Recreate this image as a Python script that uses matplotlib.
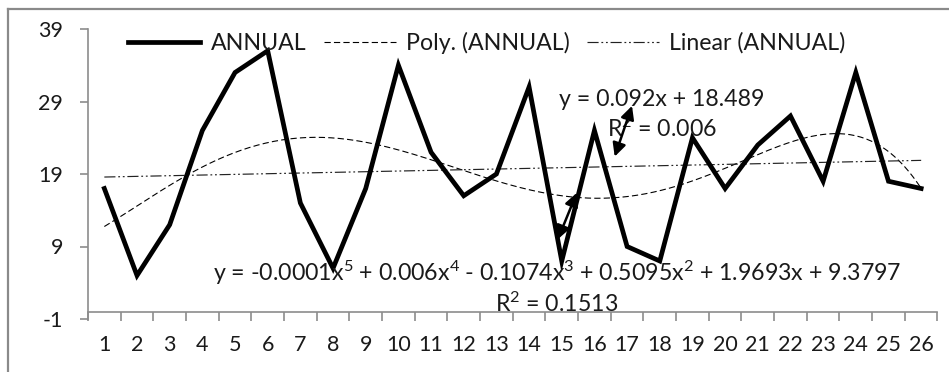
import numpy as np
import matplotlib
matplotlib.use("Agg")
import matplotlib.pyplot as plt
from matplotlib.lines import Line2D
from matplotlib.ticker import FixedLocator

plt.rcParams['font.family'] = ['Lato', 'DejaVu Sans']
plt.rcParams['mathtext.fontset'] = 'custom'
plt.rcParams['mathtext.rm'] = 'Lato'
plt.rcParams['lines.scale_dashes'] = False
plt.rcParams['axes.unicode_minus'] = False

# annual series, one value per year index
years = np.arange(1, 27)
annual = [17, 5, 12, 25, 33, 36, 15, 6, 17, 34, 22, 16, 19,
          31, 7, 25, 9, 7, 24, 17, 23, 27, 18, 33, 18, 17]
y_ticks = [-1, 9, 19, 29, 39]

series_name = 'ANNUAL'
poly_eq = ('y = -0.0001x$\\mathregular{^5}$ + 0.006x$\\mathregular{^4}$ - 0.1074x$\\mathregular{^3}$'
           ' + 0.5095x$\\mathregular{^2}$ + 1.9693x + 9.3797')
poly_r2 = 'R$\\mathregular{^2}$ = 0.1513'
lin_eq = 'y = 0.092x + 18.489'
lin_r2 = 'R$\\mathregular{^2}$ = 0.006'

text_col = '#1a1a1a'
axis_col = '#8c8c8c'
fs_tick = 15.5
fs_text = 16.7

fig = plt.figure(figsize=(9.49, 3.72), dpi=100)
ax = fig.add_axes([88 / 949, 1 - 319 / 372, (937.5 - 88) / 949, (319 - 29) / 372])

# trendlines fitted on the series
xs = np.linspace(1, 26, 300)
poly = np.polyfit(years, annual, 5)
lin = np.polyfit(years, annual, 1)

ax.plot(years, annual, color='black', lw=3.4, solid_joinstyle='miter', label=series_name, zorder=3)
ax.plot(xs, np.polyval(poly, xs), color='black', lw=0.8, dashes=(4.5, 2.3),
        label='Poly. (%s)' % series_name, zorder=2)
ax.plot(xs, np.polyval(lin, xs), color='#222222', lw=0.85, dashes=(8, 2, 1.3, 2, 1.3, 2),
        label='Linear (%s)' % series_name, zorder=2)

ax.set_xlim(0.5, 26.5)
ax.set_ylim(-1, 39)
ax.set_yticks(y_ticks)
ax.set_xticks(years)
ax.xaxis.set_minor_locator(FixedLocator(np.arange(0.5, 27, 1)))

for s in ['top', 'right']:
    ax.spines[s].set_visible(False)
for s in ['left', 'bottom']:
    ax.spines[s].set_color(axis_col)
    ax.spines[s].set_linewidth(1.2)
ax.spines['bottom'].set_position(('data', 0))

ax.tick_params(axis='y', length=6, width=1.2, color=axis_col, pad=12,
               labelsize=fs_tick, labelcolor=text_col)
ax.tick_params(axis='x', which='major', length=0, pad=17, labelsize=fs_tick, labelcolor=text_col)
ax.tick_params(axis='x', which='minor', length=6.5, width=1.2, color=axis_col, direction='out')

# trendline labels
ax.text(18.06, 29.3, lin_eq, ha='center', va='center', fontsize=fs_text, color=text_col, zorder=4)
ax.text(18.06, 25.2, lin_r2, ha='center', va='center', fontsize=fs_text, color=text_col, zorder=4)
ax.text(14.85, 5.3, poly_eq, ha='center', va='center', fontsize=fs_text, color=text_col, zorder=4)
ax.text(14.85, 1.1, poly_r2, ha='center', va='center', fontsize=fs_text, color=text_col, zorder=4)

# double headed pointers
arrow = dict(arrowstyle='<|-|>', color='black', lw=1.8, mutation_scale=20, shrinkA=0, shrinkB=0)
ax.annotate('', xy=(15.46, 16.4), xytext=(14.88, 10.0), arrowprops=arrow, zorder=5)
ax.annotate('', xy=(17.15, 28.4), xytext=(16.62, 21.4), arrowprops=arrow, zorder=5)

ax.legend(loc='center', bbox_to_anchor=(487 / 949, 1 - 43 / 372), bbox_transform=fig.transFigure,
          ncol=3, frameon=False, fontsize=fs_text, handlelength=3.1, handletextpad=0.45,
          columnspacing=0.75, labelcolor=text_col)

# chart border
fig.add_artist(Line2D([8 / 949, 8 / 949], [0, 1 - 9 / 372], color='#8a8a8a', lw=1.6))
fig.add_artist(Line2D([8 / 949, 1], [1 - 9 / 372, 1 - 9 / 372], color='#8a8a8a', lw=1.6))

fig.savefig('out.png', dpi=100)
